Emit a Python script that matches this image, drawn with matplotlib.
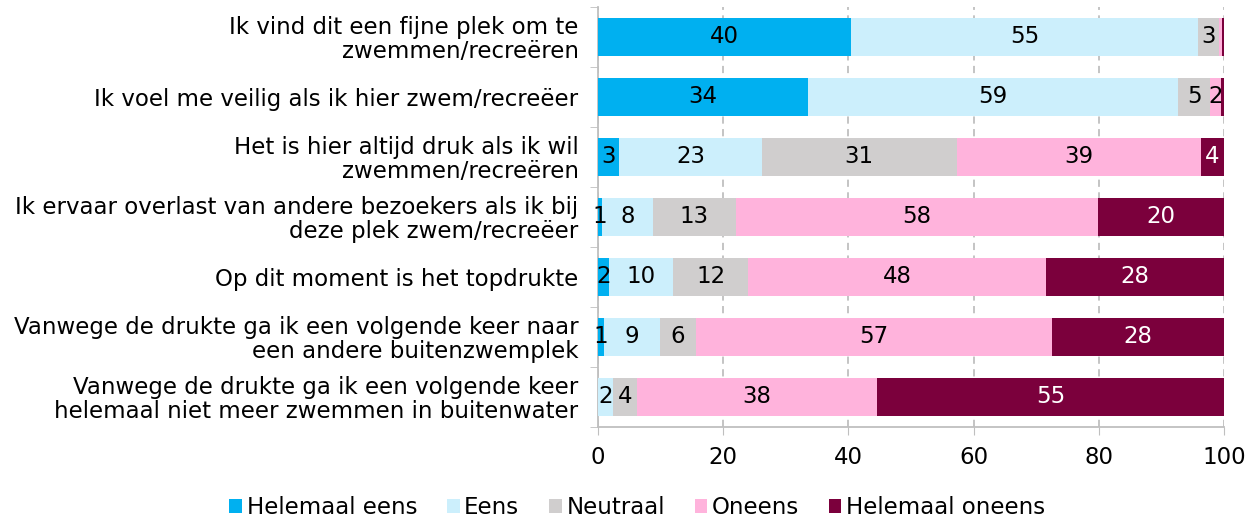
import matplotlib.pyplot as plt
import numpy as np
from matplotlib.ticker import FixedLocator

categories = [
    'Ik vind dit een fijne plek om te\nzwemmen/recreëren',
    'Ik voel me veilig als ik hier zwem/recreëer',
    'Het is hier altijd druk als ik wil\nzwemmen/recreëren',
    'Ik ervaar overlast van andere bezoekers als ik bij\ndeze plek zwem/recreëer',
    'Op dit moment is het topdrukte',
    'Vanwege de drukte ga ik een volgende keer naar\neen andere buitenzwemplek',
    'Vanwege de drukte ga ik een volgende keer\nhelemaal niet meer zwemmen in buitenwater',
]
series_names = ['Helemaal eens', 'Eens', 'Neutraal', 'Oneens', 'Helemaal oneens']
helemaal_eens = [40.4, 33.5, 3.4, 0.6, 1.8, 1.0, 0.0]
eens = [55.4, 59.2, 22.8, 8.2, 10.2, 8.9, 2.4]
neutraal = [3.4, 5.1, 31.1, 13.2, 12.0, 5.8, 3.8]
oneens = [0.4, 1.7, 39.0, 57.9, 47.6, 56.8, 38.4]
helemaal_oneens = [0.4, 0.5, 3.7, 20.1, 28.4, 27.5, 55.4]

colors = ['#00B0F0', '#CCEFFC', '#D0CECE', '#FFB3DC', '#7B003C']
text_colors = ['black', 'black', 'black', 'black', 'white']
fs = 16.5

plt.rcParams['font.family'] = 'DejaVu Sans'
fig = plt.figure(figsize=(12.57, 5.22), dpi=100)
ax = fig.add_axes([0.4757, 0.182, 0.4981, 0.8046])

y = np.arange(len(categories))
left = np.zeros(len(categories))
data = [helemaal_eens, eens, neutraal, oneens, helemaal_oneens]
for vals, name, c, tc in zip(data, series_names, colors, text_colors):
    vals = np.array(vals)
    ax.barh(y, vals, left=left, height=0.63, color=c, label=name, zorder=3)
    for yi, (l, v) in enumerate(zip(left, vals)):
        if round(v) >= 1:
            ax.text(l + v / 2, yi, str(int(round(v))), ha='center', va='center',
                    fontsize=fs, color=tc, zorder=4)
    left = left + vals

ax.set_xlim(0, 100)
ax.set_ylim(len(categories) - 0.5, -0.5)
ax.set_xticks([0, 20, 40, 60, 80, 100])
ax.tick_params(axis='x', labelsize=fs, length=6, color='#BFBFBF', pad=8)
ax.set_yticks(y)
ax.set_yticklabels(categories, fontsize=fs, linespacing=1.05)
ax.tick_params(axis='y', which='major', length=0, pad=14)
ax.yaxis.set_minor_locator(FixedLocator(np.arange(-0.5, len(categories), 1)))
ax.tick_params(axis='y', which='minor', length=6, color='#BFBFBF')

ax.grid(axis='x', linestyle=(0, (4, 3)), color='#BFBFBF', linewidth=1.3, zorder=0)
for s in ['top', 'right']:
    ax.spines[s].set_visible(False)
for s in ['left', 'bottom']:
    ax.spines[s].set_color('#BFBFBF')
    ax.spines[s].set_linewidth(1.3)

fig.legend(*ax.get_legend_handles_labels(), loc='center', bbox_to_anchor=(0.507, 0.027),
           ncol=5, frameon=False, fontsize=fs, handlelength=0.55, handleheight=0.55,
           handletextpad=0.2, columnspacing=1.3)

fig.savefig('out.png', dpi=100)
